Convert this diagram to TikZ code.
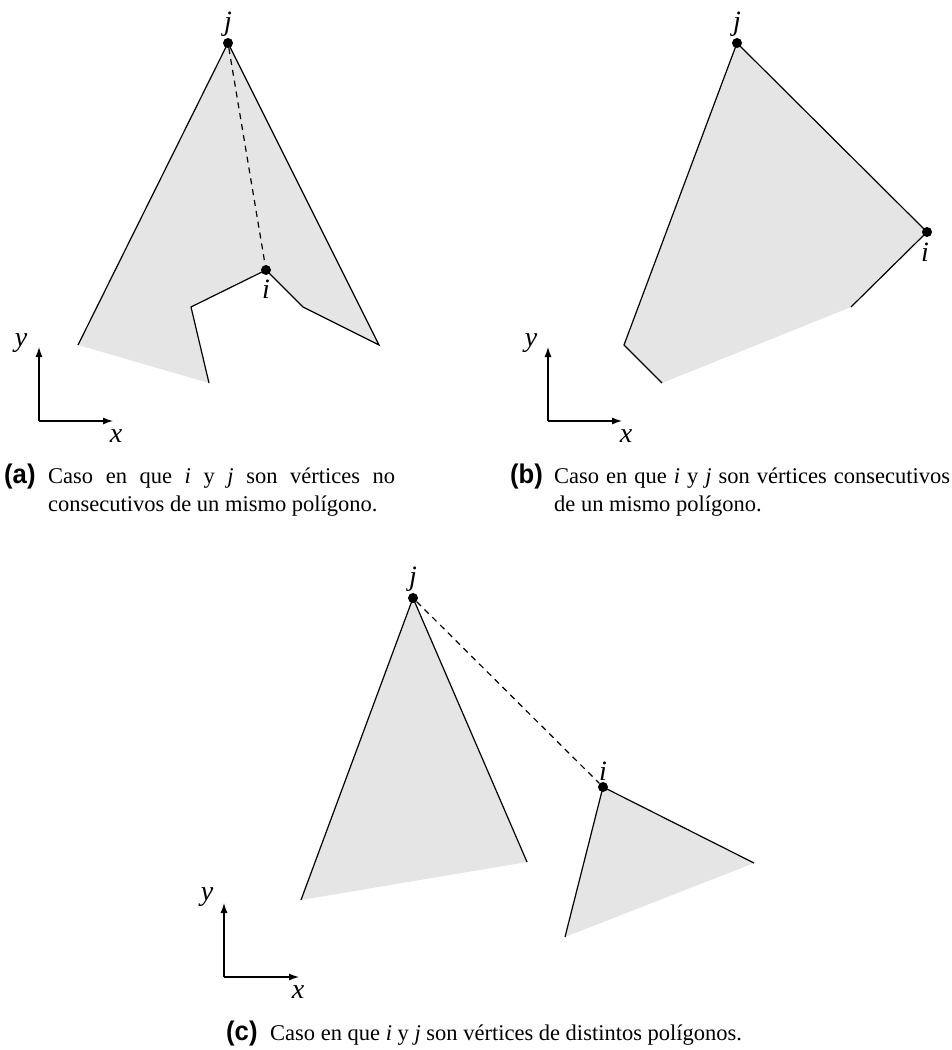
\documentclass[tikz,border=0pt]{standalone}
\usepackage{fontspec}
\setmainfont{Liberation Serif}
\newfontfamily\labfont[FakeStretch=0.95]{Liberation Sans}
\usetikzlibrary{arrows.meta}
\begin{document}
\begin{tikzpicture}[x=1pt,y=-1pt,
  poly/.style={fill=black!10, draw=none},
  edge/.style={line width=1.2pt, line join=miter},
  dashedge/.style={line width=1.2pt, dash pattern=on 6pt off 5pt},
  vdot/.style={circle, fill=black, inner sep=0pt, minimum size=10pt},
  ptlab/.style={font=\fontsize{28}{32}\selectfont\itshape, inner sep=1pt},
  axis/.style={line width=1.2pt, -{Latex[length=10pt,width=7pt]}},
  captext/.style={font=\fontsize{22.5}{27}\selectfont, inner sep=0pt, anchor=base west},
  caplab/.style={font=\fontsize{27}{30}\selectfont\labfont\bfseries, inner sep=0pt, anchor=base west}]
\useasboundingbox (0,0) rectangle (952,1050);

% ---------- panel (a)
\coordinate (a1) at (78,345);
\coordinate (pja) at (228,43);
\coordinate (a2) at (379,345);
\coordinate (a3) at (303,307);
\coordinate (pia) at (266,270);
\coordinate (a4) at (191,307);
\coordinate (a5) at (209,383);
\fill[poly] (a1) -- (pja) -- (a2) -- (a3) -- (pia) -- (a4) -- (a5) -- cycle;
\draw[edge] (a1) -- (pja) -- (a2) -- (a3) -- (pia) -- (a4) -- (a5);
\node[vdot] (aj) at (pja) {};
\node[vdot] (ai) at (pia) {};
\draw[dashedge] (aj) -- (ai);
\node[ptlab, anchor=south] (ajl) at (aj.north) {j};
\node[ptlab, anchor=north, yshift=-4pt] (ail) at (ai.south) {i};
\coordinate (ao) at (39,421);
\coordinate (ay) at (39,347);
\coordinate (ax) at (113,421);
\draw[axis] (ao) -- (ay);
\draw[axis] (ao) -- (ax);
\node[ptlab] (ayl) at (21,343) {y};
\node[ptlab] (axl) at (116,436) {x};

% ---------- panel (b)
\coordinate (b1) at (851,307);
\coordinate (pib) at (927,232);
\coordinate (pjb) at (737,43);
\coordinate (b2) at (624,345);
\coordinate (b3) at (662,383);
\fill[poly] (b1) -- (pib) -- (pjb) -- (b2) -- (b3) -- cycle;
\draw[edge] (b1) -- (pib) -- (pjb) -- (b2) -- (b3);
\node[vdot] (bj) at (pjb) {};
\node[vdot] (bi) at (pib) {};
\node[ptlab, anchor=south] (bjl) at (bj.north) {j};
\node[ptlab, anchor=north, yshift=-5pt, xshift=-2pt] (bil) at (bi.south) {i};
\coordinate (bo) at (548,421);
\coordinate (by) at (548,347);
\coordinate (bx) at (622,421);
\draw[axis] (bo) -- (by);
\draw[axis] (bo) -- (bx);
\node[ptlab] (byl) at (531,343) {y};
\node[ptlab] (bxl) at (626,436) {x};

% ---------- panel (c)
\coordinate (pjc) at (413,598);
\coordinate (c1) at (527,862);
\coordinate (c2) at (301,900);
\coordinate (pic) at (603,787);
\coordinate (c3) at (754,863);
\coordinate (c4) at (565,937);
\fill[poly] (pjc) -- (c1) -- (c2) -- cycle;
\fill[poly] (pic) -- (c3) -- (c4) -- cycle;
\draw[edge] (c1) -- (pjc) -- (c2);
\draw[edge] (c3) -- (pic) -- (c4);
\node[vdot] (cj) at (pjc) {};
\node[vdot] (ci) at (pic) {};
\draw[dashedge] (cj) -- (ci);
\node[ptlab, anchor=south] (cjl) at (cj.north) {j};
\node[ptlab, anchor=south] (cil) at (ci.north) {i};
\coordinate (co) at (224,977);
\coordinate (cy) at (224,903);
\coordinate (cx) at (299,977);
\draw[axis] (co) -- (cy);
\draw[axis] (co) -- (cx);
\node[ptlab] (cyl) at (207,897) {y};
\node[ptlab] (cxl) at (298,992) {x};

% ---------- captions
\node[caplab] (acl) at (4,483) {(a)};
\node[captext] (acap1) at (48,483) {\makebox[347pt][s]{Caso en que \textit{i} y \textit{j} son vértices no}};
\node[captext] (acap2) at (48,511) {consecutivos de un mismo polígono.};
\node[caplab] (bcl) at (510,483) {(b)};
\node[captext] (bcap1) at (554,483) {\makebox[396pt][s]{Caso en que \textit{i} y \textit{j} son vértices consecutivos}};
\node[captext] (bcap2) at (554,511) {de un mismo polígono.};
\node[caplab] (ccl) at (226,1040) {(c)};
\node[captext] (ccap) at (270,1040) {Caso en que \textit{i} y \textit{j} son vértices de distintos polígonos.};
\end{tikzpicture}
\end{document}
